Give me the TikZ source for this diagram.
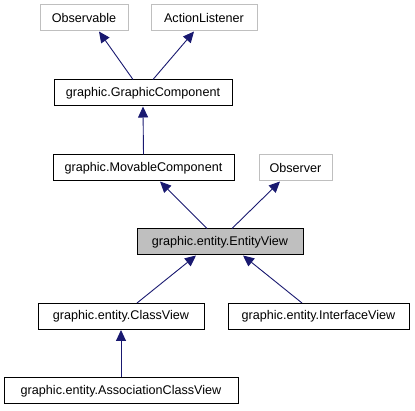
\documentclass[tikz,border=0pt]{standalone}
\usepackage{fontspec}
\setmainfont{Liberation Sans}
\usetikzlibrary{arrows.meta}
\definecolor{edgeblue}{HTML}{191970}
\definecolor{lightborder}{HTML}{BFBFBF}
\definecolor{hlfill}{HTML}{BFBFBF}
\tikzset{
  cls/.style={draw=black, line width=1pt, fill=white, inner sep=0pt, minimum height=26pt, font=\fontsize{12.6}{14}\selectfont},
  ext/.style={cls, draw=lightborder},
  cur/.style={cls, fill=hlfill},
  inh/.style={draw=edgeblue, line width=0.9pt, -{Triangle[length=11pt,width=10pt]}},
}
\begin{document}
\begin{tikzpicture}[x=1pt,y=-1pt]
\useasboundingbox (0,0) rectangle (415,411);
\node[ext, minimum width=88pt] (obs) at (84,18) {Observable};
\node[ext, minimum width=106pt] (al) at (204,18) {ActionListener};
\node[cls, minimum width=178pt] (gc) at (143,93) {graphic.GraphicComponent};
\node[cls, minimum width=181pt] (mc) at (143.5,168) {graphic.MovableComponent};
\node[ext, minimum width=73pt] (observer) at (295.5,168) {Observer};
\node[cur, minimum width=166pt] (ev) at (220,242) {graphic.entity.EntityView};
\node[cls, minimum width=166pt] (cv) at (121,316.5) {graphic.entity.ClassView};
\node[cls, minimum width=181pt] (iv) at (318.5,316.5) {graphic.entity.InterfaceView};
\node[cls, minimum width=234pt] (acv) at (121,391) {graphic.entity.AssociationClassView};

\draw[inh] ([xshift=-10pt]gc.north) -- ([xshift=15pt]obs.south);
\draw[inh] ([xshift=10pt]gc.north) -- ([xshift=-10pt]al.south);
\draw[inh] (mc.north) -- (gc.south);
\draw[inh] ([xshift=-13pt]ev.north) -- ([xshift=16.5pt]mc.south);
\draw[inh] ([xshift=12pt]ev.north) -- ([xshift=-15.5pt]observer.south);
\draw[inh] ([xshift=16pt]cv.north) -- ([xshift=-24pt]ev.south);
\draw[inh] ([xshift=-16.5pt]iv.north) -- ([xshift=23pt]ev.south);
\draw[inh] (acv.north) -- (cv.south);
\end{tikzpicture}
\end{document}
